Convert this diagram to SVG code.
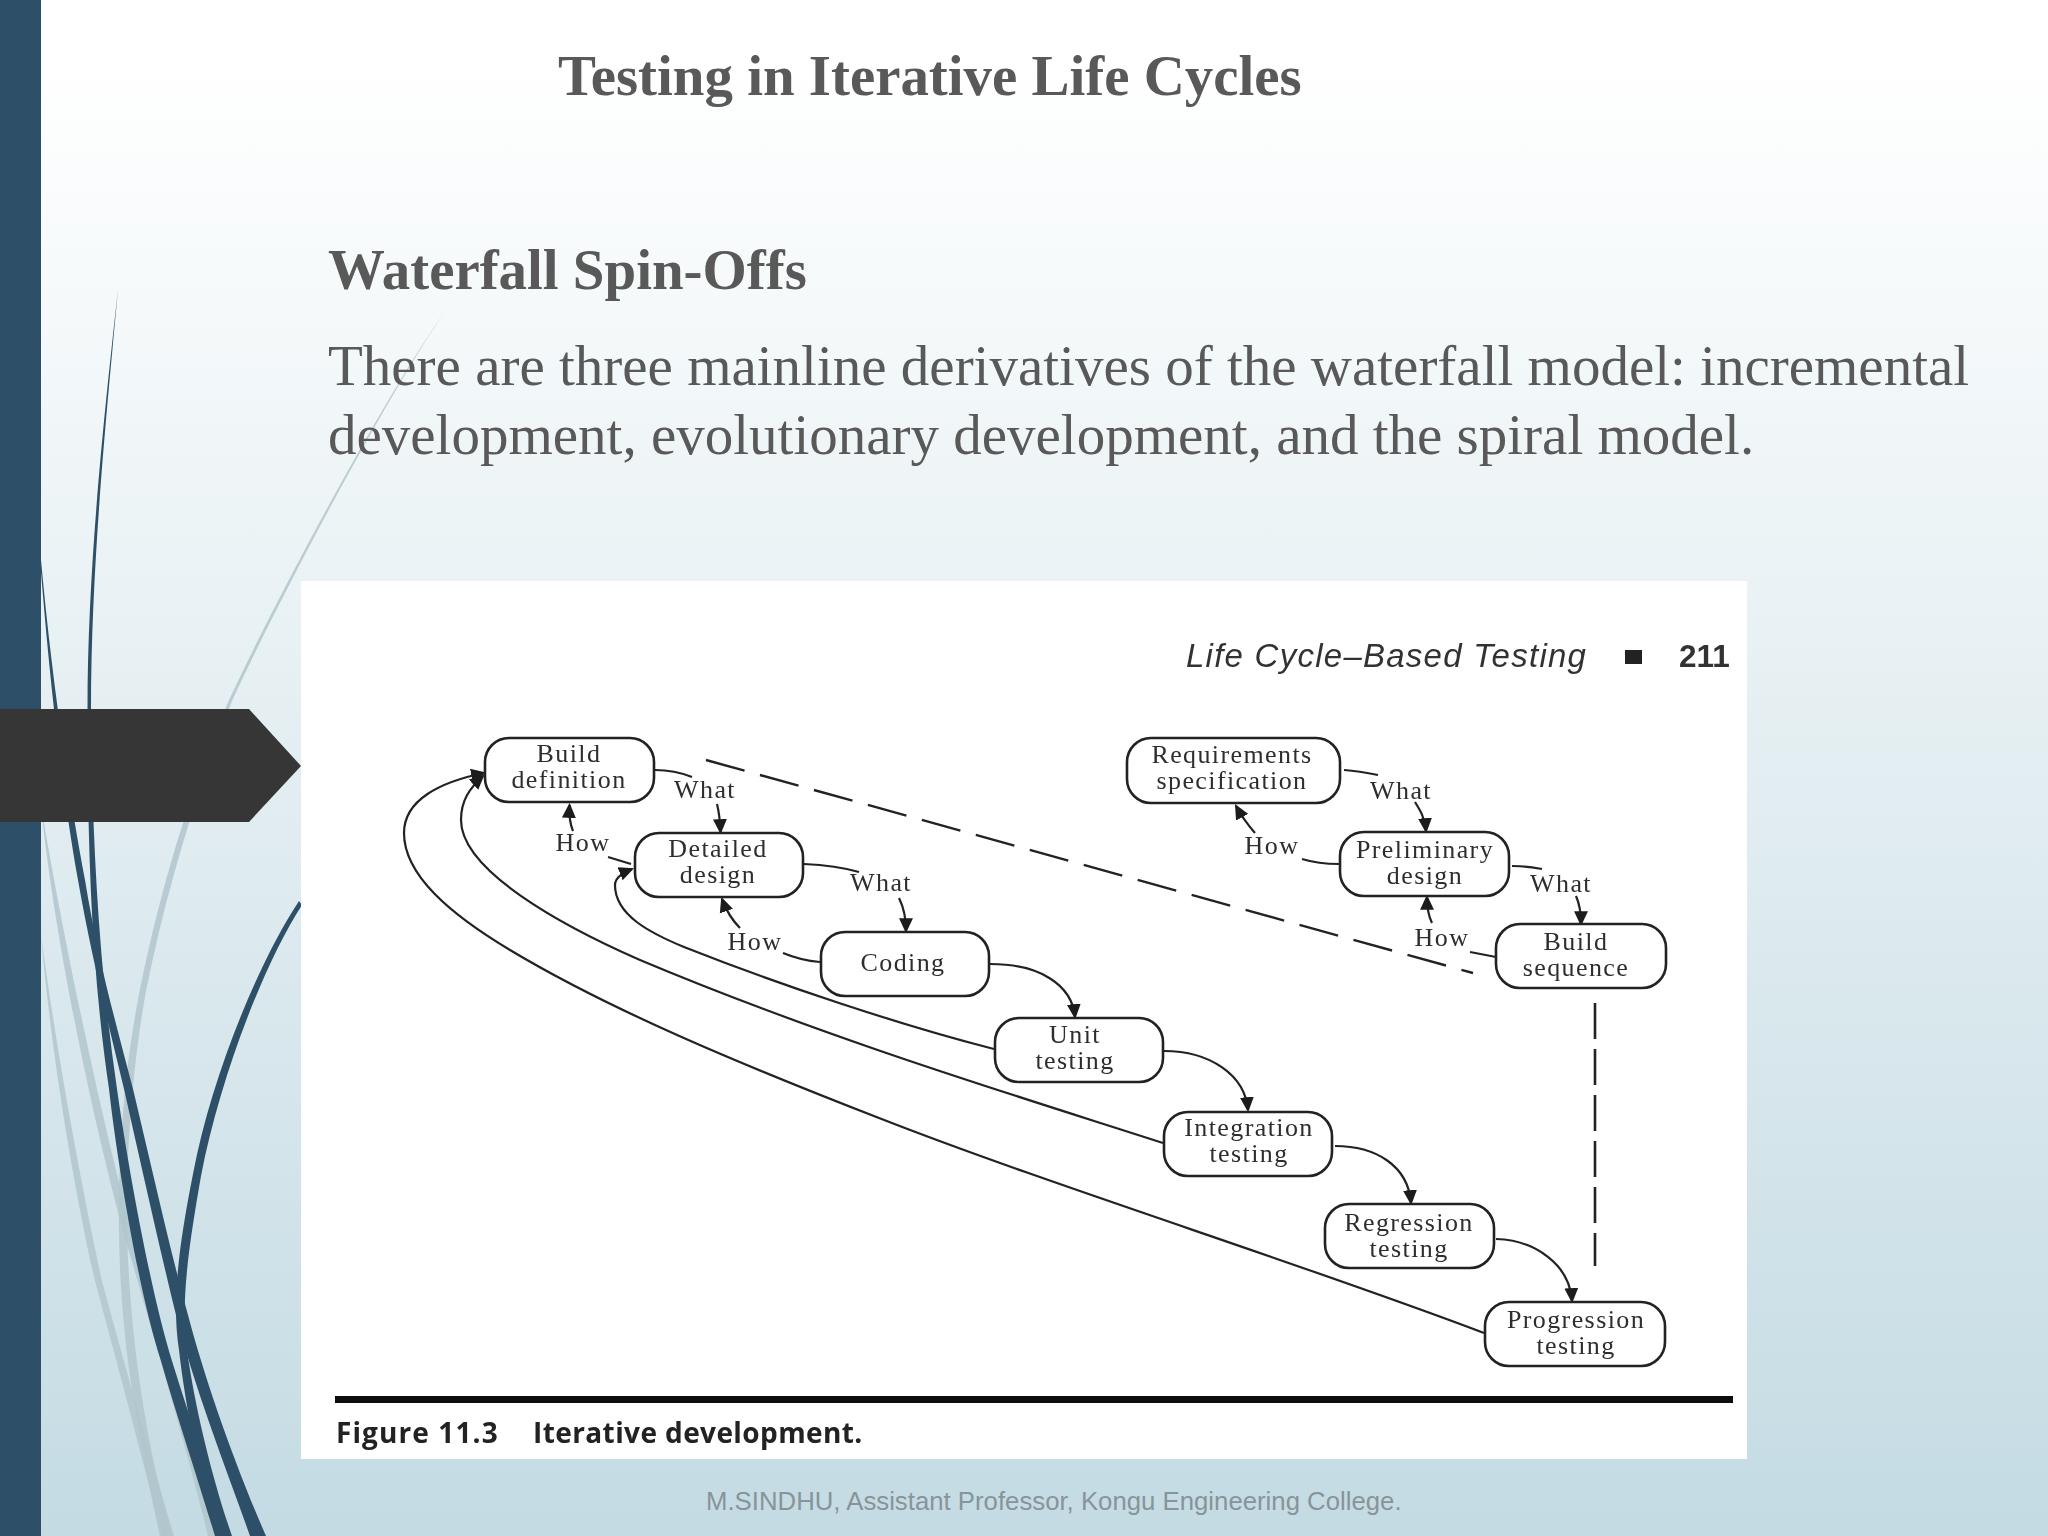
<svg xmlns="http://www.w3.org/2000/svg" width="2048" height="1536" viewBox="0 0 2048 1536">
<defs>
<linearGradient id="bg" x1="0" y1="0" x2="0" y2="1"><stop offset="0.04" stop-color="#ffffff"/><stop offset="1" stop-color="#c4dbe3"/></linearGradient>
<marker id="ah" viewBox="0 0 14 14" refX="12" refY="7" markerWidth="15" markerHeight="15" markerUnits="userSpaceOnUse" orient="auto"><path d="M0 0.5L14 7L0 13.5Z" fill="#1c1c1c"/></marker>
<filter id="soft" x="0" y="0" width="1" height="1"><feGaussianBlur stdDeviation="0.55"/></filter>
<style>
.dark{fill:#2d5068}
.gray{fill:#b2c6cd;fill-opacity:.85}
.h{font-family:"Liberation Serif",serif;font-weight:bold;fill:#595959;font-size:56.900px}
.b{font-family:"Liberation Serif",serif;fill:#595959;font-size:57px}
.n rect{fill:#fff;stroke:#222;stroke-width:2.6}
.t{font-family:"Liberation Serif",serif;font-size:26px;letter-spacing:1.4px;fill:#2e2e2e;text-anchor:middle}
.c path{fill:none;stroke:#222;stroke-width:2.2}
.c .a{marker-end:url(#ah)}
.c .d{stroke-width:2.4;stroke-dasharray:40 16}
.c .v{stroke-width:2.6;stroke-dasharray:36 10}
</style>
</defs>
<rect id="background" width="2048" height="1536" fill="url(#bg)"/>
<g id="wisps">
<path class="gray" d="M444 313C392 385 284 582 229 700C190 790 160 890 140 989C122 1080 118 1170 119 1230C120 1320 130 1400 160 1536L172 1536C142 1430 129 1320 127 1230C126 1170 130 1080 146 991C166 892 195 795 232 701C286 584 394 385 444 313Z"/>
<path class="gray" d="M41 805C52 920 86 1090 119 1216C146 1312 185 1440 208 1536L218 1536C195 1440 155 1308 127 1214C95 1090 60 920 41 805Z"/>
<path class="gray" d="M41 935C50 1040 70 1170 94 1277C108 1330 125 1390 162 1536L174 1536C140 1420 115 1330 101 1277C78 1170 55 1040 41 935Z"/>
<path class="dark" d="M118 289C106 400 87.500 560 87.500 709C87.500 830 90 960 109 1089C117 1160 138 1290 161 1361C175 1410 195 1470 215 1536L230 1536C212 1480 190 1420 172 1361C150 1290 127 1160 117 1089C98 960 92 830 91 709C91 560 108 400 118 289Z"/>
<path class="dark" d="M40 560C48 660 60 780 78 880C92 960 110 1030 124 1089C140 1160 160 1250 176 1315C195 1390 225 1465 250 1536L266 1536C235 1465 205 1380 188 1315C170 1250 150 1160 133 1089C115 1020 98 960 85 880C66 780 50 660 41 560Z"/>
<path class="dark" d="M299 901C258 963 211 1078 193 1174C180 1240 171 1300 179 1350C186 1412 201 1482 218 1536L232 1536C212 1478 195 1408 187 1350C180 1300 190 1240 201 1176C219 1082 262 967 302 905Z"/>
</g>
<rect id="sidebar" class="dark" x="0" y="0" width="41" height="1536"/>
<path id="pentagon" d="M0 709H249L301 766L249 822H0Z" fill="#363636"/>
<text class="h" x="558" y="95">Testing in Iterative Life Cycles</text>
<text class="h" x="328" y="289">Waterfall Spin-Offs</text>
<text class="b" x="328" y="385">There are three mainline derivatives of the waterfall model: incremental</text>
<text class="b" x="328" y="454">development, evolutionary development, and the spiral model.</text>
<text x="706" y="1510" font-family="Liberation Sans, sans-serif" font-size="25.750" fill="#87949a">M.SINDHU, Assistant Professor, Kongu Engineering College.</text>
<rect id="figure" x="301" y="581" width="1446" height="878" fill="#fff"/>
<g id="figure-content" filter="url(#soft)">
<text x="1186" y="667" font-family="Liberation Sans, sans-serif" font-style="italic" font-size="33" letter-spacing="1.250" fill="#333">Life Cycle–Based Testing</text>
<rect x="1625" y="650" width="17" height="14" fill="#222"/>
<text x="1679" y="667" font-family="Liberation Sans, sans-serif" font-weight="bold" font-size="31.500" fill="#333">211</text>
<rect x="335" y="1396" width="1398" height="7" fill="#111"/>
<text x="336" y="1443" font-family="Open Sans, sans-serif" font-weight="bold" font-size="28" letter-spacing="1.100" fill="#222">Figure 11.3</text>
<text x="533" y="1443" font-family="Open Sans, sans-serif" font-weight="bold" font-size="28" letter-spacing="0.400" fill="#222">Iterative development.</text>
<g id="connectors" class="c">
<path class="d" d="M706 760L1473 973"/>
<path class="v" d="M1595 1003V1266"/>
<path d="M655 770C668 770 682 773 692 777"/>
<path class="a" d="M717 804C719 812 720 820 720.500 832"/>
<path d="M608 857L631 864"/>
<path class="a" d="M573 831C570 824 569 816 569.500 805"/>
<path d="M804 864C825 865 845 868 859 872"/>
<path class="a" d="M899 898C904 908 906 918 906 931"/>
<path d="M783 953C795 958 808 961 820 962"/>
<path class="a" d="M740 928C732 920 726 910 722 899"/>
<path d="M1344 770C1357 771 1368 773 1378 775"/>
<path class="a" d="M1415 802C1420 810 1425 818 1426 831"/>
<path d="M1302 859C1315 863 1328 864 1339 864"/>
<path class="a" d="M1255 833C1248 825 1242 817 1236 806"/>
<path d="M1512 866C1522 866 1532 867 1542 869"/>
<path class="a" d="M1576 896C1580 905 1581 912 1581 924"/>
<path d="M1470 952L1496 957"/>
<path class="a" d="M1432 923C1428 915 1427 908 1427 897"/>
<path class="a" d="M990 964C1040 964 1072 985 1075 1017"/>
<path class="a" d="M1164 1051C1210 1051 1245 1075 1248 1110"/>
<path class="a" d="M1335 1146C1375 1146 1408 1165 1411 1203"/>
<path class="a" d="M1496 1239C1535 1240 1570 1265 1572 1301"/>
<path class="a" d="M994 1049C900 1025 780 985 684 947C650 933 615 915 615 885C615 878 622 873 632 869"/>
<path class="a" d="M1163 1143C1030 1100 830 1040 640 960C560 925 461 870 461 820C461 800 470 788 483 776"/>
<path class="a" d="M1484 1333C1300 1263 1050 1185 879 1118C740 1064 610 1010 510 950C450 914 404 875 404 833C404 800 440 782 484 773"/>
</g>
<g id="node-build-definition" class="n"><rect x="485" y="738" width="169" height="64" rx="24"/><text class="t" x="569" y="762">Build</text><text class="t" x="569" y="788">definition</text></g>
<g id="node-detailed-design" class="n"><rect x="635" y="833" width="168" height="64" rx="24"/><text class="t" x="718" y="857">Detailed</text><text class="t" x="718" y="883">design</text></g>
<g id="node-coding" class="n"><rect x="821" y="932" width="168" height="64" rx="24"/><text class="t" x="903" y="971">Coding</text></g>
<g id="node-unit-testing" class="n"><rect x="995" y="1018" width="168" height="64" rx="24"/><text class="t" x="1075" y="1043">Unit</text><text class="t" x="1075" y="1069">testing</text></g>
<g id="node-integration-testing" class="n"><rect x="1164" y="1112" width="168" height="64" rx="24"/><text class="t" x="1249" y="1136">Integration</text><text class="t" x="1249" y="1162">testing</text></g>
<g id="node-regression-testing" class="n"><rect x="1325" y="1204" width="169" height="64" rx="24"/><text class="t" x="1409" y="1231">Regression</text><text class="t" x="1409" y="1257">testing</text></g>
<g id="node-progression-testing" class="n"><rect x="1485" y="1302" width="180" height="64" rx="24"/><text class="t" x="1576" y="1328">Progression</text><text class="t" x="1576" y="1354">testing</text></g>
<g id="node-requirements-specification" class="n"><rect x="1127" y="738" width="213" height="65" rx="24"/><text class="t" x="1232" y="763">Requirements</text><text class="t" x="1232" y="789">specification</text></g>
<g id="node-preliminary-design" class="n"><rect x="1340" y="832" width="169" height="64" rx="24"/><text class="t" x="1425" y="858">Preliminary</text><text class="t" x="1425" y="884">design</text></g>
<g id="node-build-sequence" class="n"><rect x="1496" y="924" width="170" height="64" rx="24"/><text class="t" x="1576" y="950">Build</text><text class="t" x="1576" y="976">sequence</text></g>
<g id="labels">
<text class="t" x="705" y="798">What</text>
<text class="t" x="583" y="851">How</text>
<text class="t" x="881" y="891">What</text>
<text class="t" x="755" y="950">How</text>
<text class="t" x="1401" y="799">What</text>
<text class="t" x="1272" y="854">How</text>
<text class="t" x="1561" y="892">What</text>
<text class="t" x="1442" y="946">How</text>
</g>
</g>
</svg>
